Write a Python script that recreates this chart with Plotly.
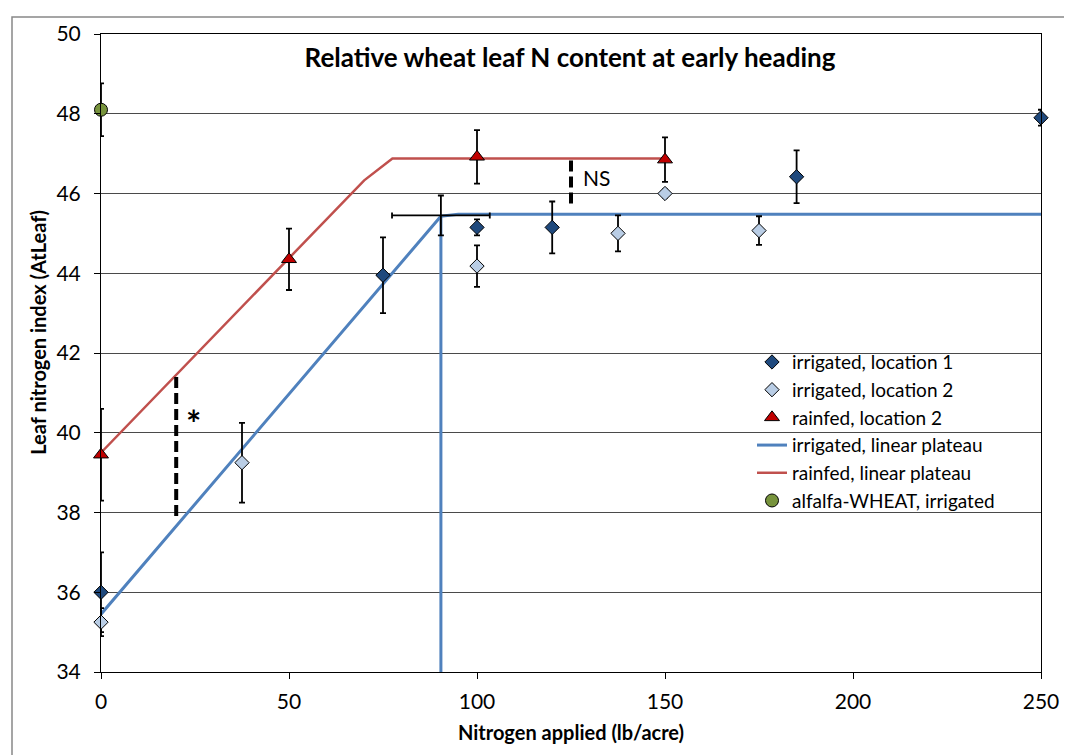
import plotly.graph_objects as go

# ---- data ----
loc1_n = [0, 75, 100, 120, 185, 250]
loc1_y = [36.0, 43.95, 45.15, 45.15, 46.42, 47.9]
loc1_err = [1.0, 0.95, 0.2, 0.65, 0.66, 0.2]

loc2_n = [0, 37.5, 100, 137.5, 150, 175]
loc2_y = [35.25, 39.25, 44.18, 45.0, 46.0, 45.07]
loc2_err = [0.35, 1.0, 0.52, 0.45, 0.1, 0.36]

rain_n = [0, 50, 100, 150]
rain_y = [39.45, 44.35, 46.92, 46.85]
rain_err = [1.15, 0.77, 0.67, 0.56]

alf_n = [0]
alf_y = [48.1]
alf_err = [0.66]

irr_lp_n = [0, 90.4, 95, 250]
irr_lp_y = [35.45, 45.43, 45.48, 45.48]

rain_lp_n = [0, 70, 77.5, 150]
rain_lp_y = [39.5, 46.33, 46.88, 46.88]

joint_n = [90.4]
joint_y = [45.45]
joint_xerr = [13]
joint_yerr = [0.5]

drop_n = [90.4, 90.4]
drop_y = [45.45, 34]

sig_n = [20, 20]
sig_y = [41.4, 37.8]
ns_n = [125, 125]
ns_y = [46.83, 45.65]

y_ticks = [34, 36, 38, 40, 42, 44, 46, 48, 50]
x_ticks = [0, 50, 100, 150, 200, 250]

FONT = "Lato"
BLUE = "#4F81BD"
RED = "#C0504D"

# plot area in figure pixels (page has an 8px body offset)
L, T, R, B = 93, 18, 1033, 664
W, H = R - L, B - T


def px_x(x):
    return (x - L) / W


def px_y(y):
    return (B - y) / H


def ebar(vals):
    return dict(type="data", array=vals, visible=True, color="black",
                thickness=1.8, width=3)


fig = go.Figure()

# lines first (behind markers)
fig.add_trace(go.Scatter(x=irr_lp_n, y=irr_lp_y, mode="lines",
                         line=dict(color=BLUE, width=3),
                         name="irrigated, linear plateau", legendrank=4))
fig.add_trace(go.Scatter(x=rain_lp_n, y=rain_lp_y, mode="lines",
                         line=dict(color=RED, width=2.5),
                         name="rainfed, linear plateau", legendrank=5))
fig.add_trace(go.Scatter(x=drop_n, y=drop_y, mode="lines",
                         line=dict(color=BLUE, width=3), showlegend=False))
fig.add_trace(go.Scatter(x=joint_n, y=joint_y, mode="markers",
                         marker=dict(size=1, color="rgba(0,0,0,0)"),
                         error_x=ebar(joint_xerr), error_y=ebar(joint_yerr),
                         showlegend=False, cliponaxis=False))
fig.add_trace(go.Scatter(x=sig_n, y=sig_y, mode="lines",
                         line=dict(color="black", width=4, dash="11px,5px"),
                         showlegend=False))
fig.add_trace(go.Scatter(x=ns_n, y=ns_y, mode="lines",
                         line=dict(color="black", width=4, dash="11px,5px"),
                         showlegend=False))

# marker series
fig.add_trace(go.Scatter(x=loc1_n, y=loc1_y, mode="markers",
                         marker=dict(symbol="diamond", size=11, color="#1F497D",
                                     line=dict(color="black", width=1)),
                         error_y=ebar(loc1_err), cliponaxis=False,
                         name="irrigated, location 1", legendrank=1))
fig.add_trace(go.Scatter(x=loc2_n, y=loc2_y, mode="markers",
                         marker=dict(symbol="diamond", size=11, color="#B9CDE5",
                                     line=dict(color="black", width=1)),
                         error_y=ebar(loc2_err), cliponaxis=False,
                         name="irrigated, location 2", legendrank=2))
fig.add_trace(go.Scatter(x=rain_n, y=rain_y, mode="markers",
                         marker=dict(symbol="triangle-up", size=13, color="#C00000",
                                     line=dict(color="black", width=1)),
                         error_y=ebar(rain_err), cliponaxis=False,
                         name="rainfed, location 2", legendrank=3))
fig.add_trace(go.Scatter(x=alf_n, y=alf_y, mode="markers",
                         marker=dict(symbol="circle", size=13, color="#77933C",
                                     line=dict(color="black", width=1)),
                         error_y=ebar(alf_err), cliponaxis=False,
                         name="alfalfa-WHEAT, irrigated", legendrank=6))

fig.add_annotation(x=24.5, y=40.25, text="<b>*</b>", showarrow=False,
                   font=dict(family=FONT, size=36, color="black"))
fig.add_annotation(x=131.8, y=46.4, text="NS", showarrow=False,
                   font=dict(family=FONT, size=21, color="black"))

# axis titles
fig.add_annotation(xref="paper", yref="paper", x=px_x(30), y=px_y(320.5),
                   text="<b>Leaf nitrogen index (AtLeaf)</b>", textangle=-90,
                   showarrow=False, xanchor="center", yanchor="middle",
                   font=dict(family=FONT, size=20, color="black"))
fig.add_annotation(xref="paper", yref="paper", x=px_x(563), y=px_y(725),
                   text="<b>Nitrogen applied (lb/acre)</b>",
                   showarrow=False, xanchor="center", yanchor="middle",
                   font=dict(family=FONT, size=20, color="black"))

# outer chart border
fig.add_shape(type="rect", xref="paper", yref="paper",
              x0=px_x(4), x1=px_x(1058.5),
              y0=px_y(770), y1=px_y(0.8),
              line=dict(color="#888888", width=1.5), layer="below")

fig.update_layout(
    width=1072, height=755,
    margin=dict(l=L, r=1072 - R, t=T, b=755 - B),
    paper_bgcolor="white", plot_bgcolor="white",
    font=dict(family=FONT, color="black", size=21),
    title=dict(text="<b>Relative wheat leaf N content at early heading</b>",
               x=px_x(562), xref="paper", xanchor="center",
               y=1 - 50 / 755, yanchor="middle",
               font=dict(family=FONT, size=26, color="black")),
    legend=dict(x=px_x(744), y=px_y(331),
                xanchor="left", yanchor="top",
                bgcolor="rgba(0,0,0,0)", borderwidth=0,
                font=dict(family=FONT, size=19, color="black"),
                traceorder="normal"),
    xaxis=dict(range=[0, 250], tickvals=x_ticks, showgrid=False,
               showline=True, linecolor="black", linewidth=1, mirror=True,
               ticks="outside", ticklen=6, tickcolor="black",
               ticklabelstandoff=5,
               tickfont=dict(family=FONT, size=21),
               zeroline=False),
    yaxis=dict(range=[34, 50], tickvals=y_ticks, showgrid=True,
               gridcolor="#4a4a4a", gridwidth=1,
               showline=True, linecolor="black", linewidth=1, mirror=True,
               ticks="outside", ticklen=6, tickcolor="black",
               ticklabelstandoff=9,
               tickfont=dict(family=FONT, size=21),
               zeroline=False),
)

fig.write_html("out.html")
